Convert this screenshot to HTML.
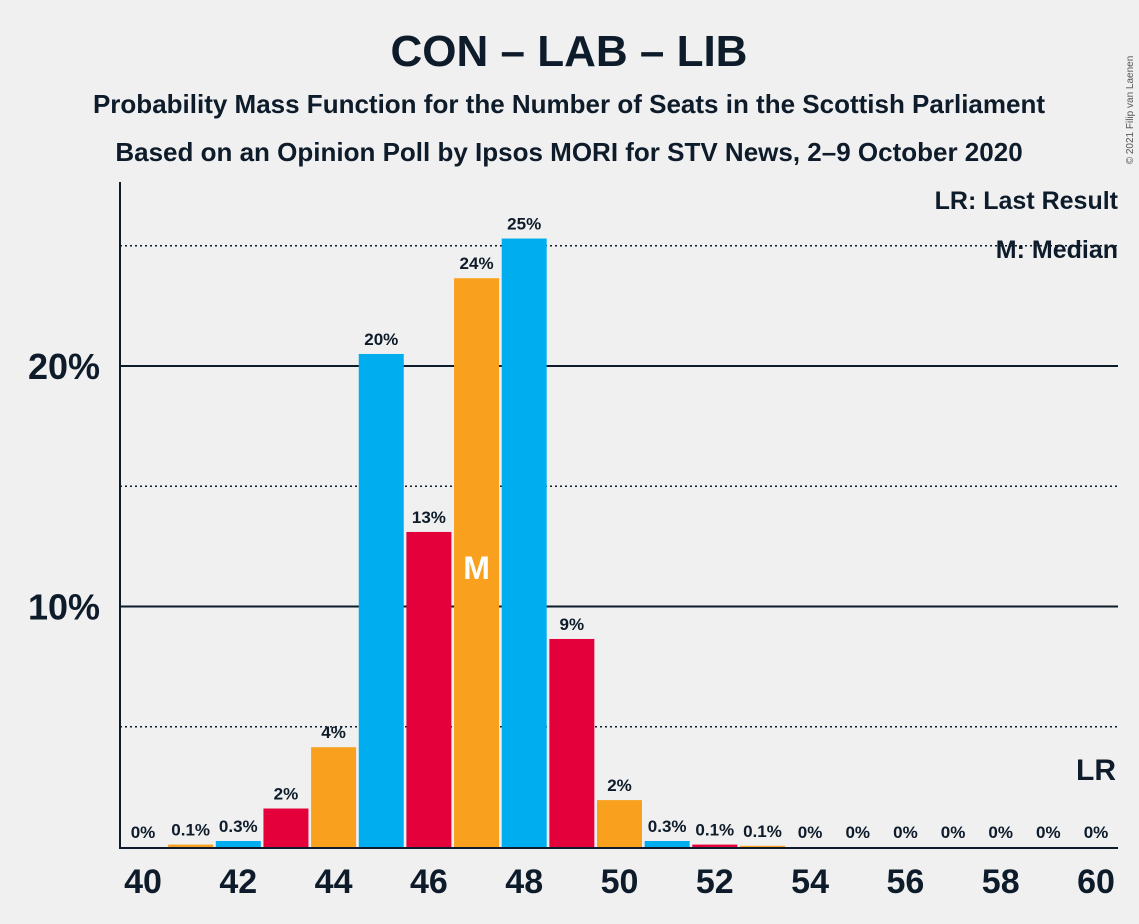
<!DOCTYPE html>
<html><head><meta charset="utf-8"><style>
body{margin:0;background:#f0f0f0;}
svg{display:block;font-family:"Liberation Sans",sans-serif;}
</style></head><body>
<svg id="c" width="1139" height="924">
<rect width="1139" height="924" fill="#f0f0f0"/>
<text x="569" y="66" text-anchor="middle" font-size="44" font-weight="bold" fill="#0d1b2a">CON – LAB – LIB</text>
<text x="569" y="113" text-anchor="middle" font-size="26" font-weight="bold" fill="#0d1b2a">Probability Mass Function for the Number of Seats in the Scottish Parliament</text>
<text x="569" y="161" text-anchor="middle" font-size="26" font-weight="bold" fill="#0d1b2a">Based on an Opinion Poll by Ipsos MORI for STV News, 2–9 October 2020</text>
<text x="1133" y="110" font-size="10" fill="#555" transform="rotate(-90 1133 110)" text-anchor="middle">© 2021 Filip van Laenen</text>
<g id="grid"></g>
<g id="bars"></g>
<g id="labels"></g>
<line x1="120" y1="182" x2="120" y2="848" stroke="#0d1b2a" stroke-width="2"/>
<line x1="119" y1="848" x2="1118" y2="848" stroke="#0d1b2a" stroke-width="2"/>
<text x="1118" y="209" text-anchor="end" font-size="25" font-weight="bold" fill="#0d1b2a">LR: Last Result</text>
<text x="1118" y="258" text-anchor="end" font-size="25" font-weight="bold" fill="#0d1b2a">M: Median</text>
<text x="1116" y="780" text-anchor="end" font-size="30" font-weight="bold" fill="#0d1b2a">LR</text>
</svg>
<script>
const seats=[40,41,42,43,44,45,46,47,48,49,50,51,52,53,54,55,56,57,58,59,60];
const values=[0,0.1,0.25,1.6,4.15,20.5,13.1,23.65,25.3,8.65,1.95,0.25,0.1,0.05,0,0,0,0,0,0,0];
const valueLabels=["0%","0.1%","0.3%","2%","4%","20%","13%","24%","25%","9%","2%","0.3%","0.1%","0.1%","0%","0%","0%","0%","0%","0%","0%"];
const xTicks=[40,42,44,46,48,50,52,54,56,58,60];
const yTicks=[10,20];
const dotted=[5,15,25];
const median=47;
const NS="http://www.w3.org/2000/svg";
const X=s=>143+(s-40)*47.65;
const Y=v=>847-v*24.05;
const colors=["#00aeef","#e4003b","#f9a01e"];
function mk(t,a,p){const e=document.createElementNS(NS,t);for(const k in a)e.setAttribute(k,a[k]);document.getElementById(p).appendChild(e);return e;}
dotted.forEach(v=>{const l=mk("line",{x1:120,x2:1118,y1:Y(v),y2:Y(v),stroke:"#0d1b2a","stroke-width":1.5,"stroke-dasharray":"2,3"},"grid");

});
yTicks.forEach(v=>{const l=mk("line",{x1:120,x2:1118,y1:Y(v),y2:Y(v),stroke:"#0d1b2a","stroke-width":2},"grid");


const t=mk("text",{x:100,y:Y(v)+13,"text-anchor":"end","font-size":36,"font-weight":"bold",fill:"#0d1b2a"},"labels");t.textContent=v+"%";

});
seats.forEach((s,i)=>{const v=values[i];
if(v>0){const r=mk("rect",{x:X(s)-22.5,y:Y(v),width:45,height:847-Y(v),fill:colors[s%3]},"bars");

}
const t=mk("text",{x:X(s),y:Y(v)-9,"text-anchor":"middle","font-size":17,"font-weight":"bold",fill:"#0d1b2a"},"labels");t.textContent=valueLabels[i];


if(s===median){const m=mk("text",{x:X(s),y:579,"text-anchor":"middle","font-size":32,"font-weight":"bold",fill:"#fff"},"labels");m.textContent="M";

}});
xTicks.forEach(s=>{const t=mk("text",{x:X(s),y:893,"text-anchor":"middle","font-size":34,"font-weight":"bold",fill:"#0d1b2a"},"labels");t.textContent=s;

});
</script>
</body></html>
